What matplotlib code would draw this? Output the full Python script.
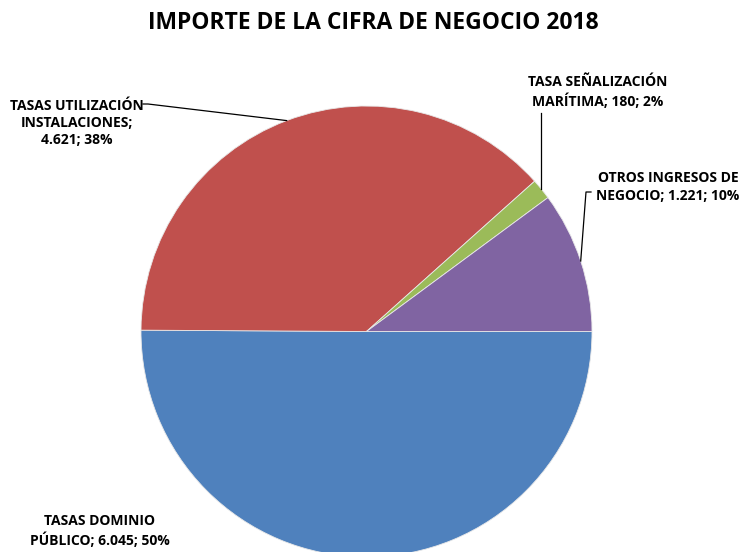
import numpy as np
import matplotlib
matplotlib.use("Agg")
import matplotlib.pyplot as plt

title = "IMPORTE DE LA CIFRA DE NEGOCIO 2018"
names = ["TASAS DOMINIO\nPÚBLICO", "TASAS UTILIZACIÓN\nINSTALACIONES;",
         "TASA SEÑALIZACIÓN\nMARÍTIMA;", "OTROS INGRESOS DE\nNEGOCIO;"]
values = [6045, 4621, 180, 1221]
value_text = ["6.045", "4.621", "180", "1.221"]
pct = ["50%", "38%", "2%", "10%"]
colors = ["#4F81BD", "#C0504D", "#9BBB59", "#8064A2"]

plt.rcParams['font.family'] = ['Open Sans', 'DejaVu Sans']

W, H = 744, 552
fig = plt.figure(figsize=(W / 100, H / 100), dpi=100)
ax = fig.add_axes([0, 0, 1, 1])

cx, cy, r = 366.5, H - 331.5, 225.5
wedges, _ = ax.pie(values, colors=colors, startangle=0, counterclock=False,
                   center=(cx, cy), radius=r, frame=True,
                   wedgeprops=dict(edgecolor="#e8e8e8", linewidth=0.6))
ax.set_xlim(0, W)
ax.set_ylim(0, H)
ax.axis("off")

labels = [
    "TASAS DOMINIO\nPÚBLICO; %s; %s" % (value_text[0], pct[0]),
    "TASAS UTILIZACIÓN\nINSTALACIONES;\n%s; %s" % (value_text[1], pct[1]),
    "TASA SEÑALIZACIÓN\nMARÍTIMA; %s; %s" % (value_text[2], pct[2]),
    "OTROS INGRESOS DE\nNEGOCIO; %s; %s" % (value_text[3], pct[3]),
]
# label centres in pixel coordinates (y from top)
label_pos = [(100, 531), (77, 123), (598, 92), (668, 187)]
for lab, (x, y) in zip(labels, label_pos):
    ax.text(x, H - y, lab, ha="center", va="center", fontsize=10,
            fontweight="bold", linespacing=1.3, color="black")


def edge_point(w):
    mid = np.deg2rad((w.theta1 + w.theta2) / 2)
    return cx + r * np.cos(mid), cy + r * np.sin(mid)

# leader lines
ex, ey = edge_point(wedges[1])
ax.plot([143, 148, ex], [H - 104, H - 104, ey], color="black", lw=0.9)
ex, ey = edge_point(wedges[2])
ax.plot([ex, ex], [H - 113, ey], color="black", lw=0.9)
ex, ey = edge_point(wedges[3])
ax.plot([591, 586, ex], [H - 192, H - 192, ey], color="black", lw=0.9)

fig.text(373 / W, 1 - 23 / H, title, ha="center", va="center",
         fontsize=16.5, fontweight="bold")

fig.savefig("out.png", dpi=100)
